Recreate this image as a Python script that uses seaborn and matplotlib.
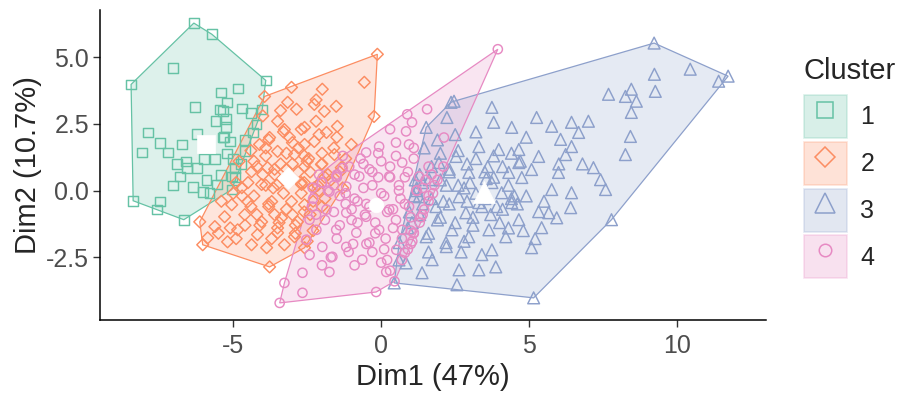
import numpy as np
import matplotlib
matplotlib.use("Agg")
import matplotlib.pyplot as plt
import seaborn as sns
from matplotlib.patches import Patch, Polygon
from matplotlib.lines import Line2D
from matplotlib.legend_handler import HandlerTuple

# cluster 1 (green squares)
x1 = [-6.33, -5.72, -3.90, -4.02, -8.45, -8.38, -7.58, -6.67, -5.80, -5.05,
      -7.04, -5.42, -4.85, -6.30, -4.71, -5.45, -5.35, -5.25, -5.25, -4.21,
      -4.34, -7.88, -7.47, -6.73, -6.23, -8.08, -7.20, -5.35, -5.12, -5.22,
      -5.62, -6.60, -6.57, -6.23, -6.80, -4.95, -5.05, -7.04, -6.36, -6.03,
      -7.47, -5.56, -5.30, -4.60, -4.60, -4.75, -4.95, -5.40, -6.00, -5.60,
      -5.20, -4.40, -5.90, -6.90, -5.00]
y1 = [6.28, 5.86, 4.13, 3.04, 3.98, -0.38, -0.71, -1.09, -0.08, 0.04,
      4.59, 3.68, 3.83, 3.12, 3.08, 3.04, 2.97, 2.67, 2.37, 2.48,
      2.18, 2.18, 1.80, 1.73, 2.11, 1.43, 1.43, 1.99, 1.84, 1.39,
      1.17, 1.09, 0.86, 0.86, 0.53, 0.86, 0.53, 0.19, 0.15, -0.04,
      -0.41, 0.23, 2.00, 1.90, 1.50, 1.00, 0.50, 0.60, 1.20, 2.60,
      3.30, 2.90, 0.40, 1.00, 1.20]

# cluster 2 (orange diamonds)
x2 = [-0.13, -0.24, -2.59, -3.77, -6.03, -6.13, -3.94, -3.03,
      -0.57, -1.99, -3.16, -2.86, -2.26, -1.92, -1.52, -1.48, -1.01, -1.85,
      -2.59, -3.27, -3.77, -4.11, -2.59, -2.26, -3.50, -2.93, -1.58, -1.35,
      -2.02, -2.59, -3.84, -4.38, -4.71, -4.04, -3.50, -2.69, -2.26, -5.05,
      -4.51, -3.70, -3.03, -2.59, -5.29, -4.61, -4.04, -3.37, -2.83, -5.62,
      -4.85, -4.18, -3.50, -2.93, -5.86, -5.19, -4.38, -3.87, -3.27,
      -3.60, -2.80, -3.30, -2.50, -3.90, -3.10, -2.20, -2.00, -1.70, -4.30,
      -3.60, -2.40, -4.60, -1.90, -2.60, -3.40, -4.00, -2.80, -3.50, -2.90,
      -1.50, -1.20, -4.90, -5.40, -4.30, -3.20, -2.30, -3.80, -4.20, -2.70,
      -1.80, -3.00, -4.70, -5.10, -3.45, -2.15, -3.65, -2.45, -1.30,
      -3.80, -3.30, -2.70, -2.10, -4.40, -3.90, -3.20, -2.60, -2.00, -4.80,
      -4.20, -3.60, -3.00, -2.40, -1.90, -4.50, -3.90, -3.30, -2.70, -2.10,
      -5.00, -4.40, -3.80, -3.20, -2.60, -2.00, -4.10, -3.50, -2.90, -2.30,
      -5.50, -4.90, -1.60, -1.40, -3.00, -3.70, -2.50, -4.00, -3.40, -2.20]
y2 = [5.11, 2.78, -2.14, -2.86, -2.03, -1.17, 3.53, 3.87,
      4.06, 3.80, 3.31, 3.05, 3.23, 2.97, 3.16, 2.41, 1.73, 2.18,
      2.37, 2.29, 1.99, 1.73, 1.73, 1.84, 1.47, 1.35, 1.35, 0.86,
      0.98, 0.90, 0.86, 0.71, 0.11, 0.23, 0.23, 0.23, 0.11, -0.53,
      -0.41, -0.41, -0.41, -0.53, -0.98, -0.90, -1.17, -1.02, -1.17, -1.35,
      -1.47, -1.65, -1.58, -1.73, -1.77, -1.92, -2.03, -2.14, -2.03,
      0.60, 0.70, -0.10, 1.10, 1.30, 2.00, 2.60, 1.40, 0.40, -0.20,
      -0.90, -0.90, -1.30, -0.30, 0.30, 1.00, 0.60, 1.60, 2.60, -1.30,
      2.00, 1.20, 0.30, -0.40, 1.10, 0.80, -0.40, -0.60, -0.90, -0.10,
      0.60, 1.80, -0.20, -1.40, -1.20, 0.20, 0.10, 1.20, 0.10,
      1.90, 2.20, 2.30, 2.10, 1.50, 1.60, 1.40, 1.30, 1.00, 1.10,
      0.90, 0.80, 1.00, 0.70, 0.50, 0.30, 0.20, 0.40, 0.30, 0.00,
      -0.10, -0.60, -0.50, -0.70, -0.80, -0.60, -1.30, -1.40, -1.60, -1.50,
      -1.60, -1.80, 1.60, 0.70, -0.90, -1.80, -1.90, 2.80, 3.00, 3.40]

# cluster 3 (blue triangles)
x3 = [9.22, 11.72, 11.40, 5.15, 7.78, 2.36, 0.44,
      10.44, 9.23, 9.26, 7.68, 8.25, 8.45, 8.62, 8.45, 8.42, 8.25, 7.17,
      7.41, 7.58, 5.25, 5.76, 6.43, 6.67, 6.06, 6.43, 6.23, 4.41, 3.74,
      3.80, 2.46, 2.22, 1.52, 5.32, 5.99, 5.76, 6.43, 6.40, 5.32, 5.66,
      5.93, 5.42, 5.08, 4.65, 4.41, 4.07, 4.75, 4.65, 3.97, 3.30, 3.64,
      4.21, 3.74, 3.87, 3.30, 2.63, 2.56, 1.72, 1.38, 2.96, 2.39, 2.86,
      2.63, 3.30, 3.74, 2.96, 2.53, 1.95, 1.62, 1.28, 1.85, 1.04, 1.52,
      2.19, 0.61, 0.84, 4.65, 5.08, 4.31,
      3.00, 3.90, 2.20, 3.10, 4.30, 2.00, 1.30, 1.45, 1.20, 0.95, 3.60,
      4.00, 2.70, 1.90, 3.20, 4.90, 1.60, 0.60, 2.50, 4.90, 3.40, 2.10,
      1.40, 0.90, 2.80, 3.55, 4.50, 1.20, 2.30, 1.15,
      2.00, 2.60, 3.20, 3.80, 4.40, 1.70, 2.30, 2.90, 3.50, 4.10,
      4.70, 1.40, 2.00, 2.60, 3.20, 3.80, 4.40, 1.10, 1.70, 2.30,
      2.90, 3.50, 4.10, 4.60, 1.30, 1.90, 2.50, 3.10, 3.70, 4.30,
      1.60, 2.20, 2.80, 3.40, 6.80, 7.00, 5.50, 6.00, 5.20, 4.80]
y3 = [5.53, 4.29, 4.10, -4.02, -1.09, 3.31, -3.46,
      4.55, 4.36, 3.72, 3.61, 3.53, 3.80, 3.35, 2.93, 2.03, 1.35, 0.86,
      0.41, 0.04, 2.74, 2.41, 2.56, 2.18, 1.92, 1.65, 1.35, 2.37, 3.12,
      2.56, 3.35, 2.74, 2.37, 1.28, 0.68, 0.04, -0.08, -0.64, -0.79, -0.83,
      -1.02, -1.39, -2.14, -1.09, -0.45, -0.08, 0.49, 1.05, 1.54, 1.65, -1.47,
      -1.73, -2.22, -2.86, -2.97, -2.97, -3.53, -2.59, -3.08, -1.73, -1.47, -0.83,
      -0.23, -0.45, 0.30, 0.68, 1.28, 1.05, 0.41, -0.23, -0.60, -1.20, -1.73,
      -1.95, -1.95, -2.71, 1.54, 0.79, 0.68,
      0.30, -0.60, 0.20, -1.00, 0.20, -1.00, 0.60, 1.60, 0.10, -0.80, 0.90,
      -1.20, -2.30, 1.90, 2.20, -0.20, -2.30, -2.60, 2.10, 2.00, -0.60, -0.40,
      -0.50, -1.40, 0.10, 0.45, -0.20, 0.00, 0.70, 0.40,
      1.40, 1.50, 1.20, 1.30, 1.40, 0.90, 0.80, 1.00, 0.70, 0.90,
      1.10, 0.30, 0.40, 0.20, -0.10, 0.50, -0.30, -0.20, -0.30, -0.50,
      -0.40, -0.30, -0.70, -0.50, -0.90, -1.10, -1.20, -1.30, -0.90, -1.40,
      -1.60, -2.10, -1.90, -2.40, 1.00, 2.60, -0.40, 1.00, -1.80, -1.50]

# cluster 4 (pink circles)
x4 = [3.94, -2.32, -3.43, -3.27, -2.66, -2.66, -1.75, -0.17, 0.17, -2.42,
      -1.65, 1.55, 0.88, 0.84, 2.12, 1.04, 0.30, 0.00,
      0.94, -0.07, -0.51, -1.08, -1.52, -1.75, -1.18, -0.74, 0.27, 0.71,
      1.28, -1.85, -1.18, -0.51, 0.27, 0.94, 1.45, -2.19, -1.52, -0.84,
      -0.07, 0.71, 1.10, -1.99, -1.18, -0.40, 0.51, 0.80, -0.64, -2.53,
      -2.42, -2.32,
      -0.30, 0.10, -0.90, 0.60, -0.50, 0.30, -1.40, 1.00, -1.00, 0.00,
      -0.20, 0.50, -1.60, 1.60, 1.80, 1.30, 1.60, 1.10, -0.60, 0.50,
      -1.30, 2.10, 1.00, 0.70, -0.90, -2.00, -0.30, 0.20, -1.50, 1.40,
      0.80, -0.10, -2.00, -2.30, 1.10, -0.80, 0.40, -1.20, 1.20, -1.90,
      -0.40, 0.65, 1.75, -1.70, -0.95, 0.15, 1.05, -2.10, -0.55, 1.90,
      -1.50, -1.30, -0.70, -0.10, 0.50, 1.10, 1.70, -2.00, -1.50, -0.90,
      -0.30, 0.30, 0.90, 1.50, -1.80, -1.20, -0.60, 0.00, 0.60, 1.20,
      1.60, -2.20, -1.60, -1.00, -0.40, 0.20, 0.80, 1.40, -1.40, -0.80,
      -0.20, 0.40, 1.00, -0.50, 0.10, 0.70, -1.10, 0.90, 1.35, 0.30, 0.45]
y4 = [5.30, 0.11, -4.21, -3.46, -3.83, -3.08, -3.05, -3.80, -3.05, -2.41,
      -2.48, 3.05, 2.86, 2.22, 1.99, 2.56, -3.00, -2.70,
      1.73, 1.65, 1.43, 0.90, 0.53, -0.04, 0.15, 0.53, 0.53, 1.05,
      0.53, -0.71, -0.83, -0.98, -0.71, -0.60, -0.71, -1.47, -1.47, -1.58,
      -1.47, -1.47, -1.58, -2.11, -2.11, -1.95, -2.22, -2.33, -2.59, -1.84,
      -1.09, -0.60,
      0.20, -0.20, -0.30, 0.00, -0.50, 0.90, -0.20, -1.00, -1.10, 1.10,
      -1.20, -1.10, 0.20, 0.90, 0.20, -1.20, -0.40, 1.60, 1.00, 1.80,
      1.30, 0.90, -2.00, -2.60, -2.80, -2.80, -2.30, -2.60, -1.80, 0.10,
      0.50, 0.50, 0.30, -0.30, -1.60, -0.40, -0.70, -0.50, 0.00, -1.10,
      0.80, -0.30, -0.10, -2.50, -2.00, -1.80, -1.90, 0.60, -0.90, 0.40,
      0.60, 0.85, 1.20, 1.40, 1.30, 1.20, 0.60, 0.30, 0.50, 0.60,
      0.70, 0.50, 0.70, 0.40, 0.00, -0.10, 0.10, -0.10, 0.20, 0.00,
      -0.20, -0.90, -0.80, -0.70, -0.60, -0.80, -0.50, -0.90, -1.30, -1.20,
      -1.60, -1.40, -1.50, -2.00, -2.20, -1.80, -2.30, -2.20, -1.00, 2.30, -3.40]

# cluster centres
cx = [-5.93, -3.16, 3.47, -0.17]
cy = [1.73, 0.49, -0.04, -0.53]

labels = ["1", "2", "3", "4"]
colors = ["#66C2A5", "#FC8D62", "#8DA0CB", "#E78AC3"]
markers = ["s", "D", "^", "o"]
sizes = [50, 36, 72, 44]
csizes = [160, 120, 250, 110]
leg_ms = [12, 10, 15, 9]


def hull(px, py):
    pts = sorted(set(zip(px, py)))

    def cross(o, a, b):
        return (a[0] - o[0]) * (b[1] - o[1]) - (a[1] - o[1]) * (b[0] - o[0])

    lower, upper = [], []
    for p in pts:
        while len(lower) >= 2 and cross(lower[-2], lower[-1], p) <= 0:
            lower.pop()
        lower.append(p)
    for p in reversed(pts):
        while len(upper) >= 2 and cross(upper[-2], upper[-1], p) <= 0:
            upper.pop()
        upper.append(p)
    return np.array(lower[:-1] + upper[:-1])


sns.set_style("ticks")
plt.rcParams["font.family"] = ["Liberation Sans", "DejaVu Sans"]

fig = plt.figure(figsize=(9, 3.96), dpi=100)
ax = fig.add_axes([100 / 900, 76 / 396, 666 / 900, 310 / 396])

xs = [x1, x2, x3, x4]
ys = [y1, y2, y3, y4]

for i in range(4):
    h = hull(xs[i], ys[i])
    ax.add_patch(Polygon(h, closed=True, facecolor=colors[i], alpha=0.22,
                         edgecolor="none", zorder=1))
    ax.add_patch(Polygon(h, closed=True, facecolor="none",
                         edgecolor=colors[i], lw=0.9, zorder=1.5))

for i in range(4):
    sns.scatterplot(x=xs[i], y=ys[i], marker=markers[i], s=sizes[i],
                    color=colors[i], facecolors="none", edgecolor=colors[i],
                    linewidth=1.05, ax=ax, legend=False, zorder=2)

for i in range(4):
    sns.scatterplot(x=[cx[i]], y=[cy[i]], marker=markers[i], s=csizes[i],
                    color="white", edgecolor="white", linewidth=0.5,
                    ax=ax, legend=False, zorder=3)

ax.set_xlim(-9.5, 13.0)
ax.set_ylim(-4.85, 6.77)
ax.set_xticks([-5, 0, 5, 10])
ax.set_xticklabels(["-5", "0", "5", "10"])
ax.set_yticks([-2.5, 0, 2.5, 5])
ax.set_yticklabels(["-2.5", "0.0", "2.5", "5.0"])
ax.tick_params(colors="#4D4D4D", labelsize=18, length=5, width=1)
ax.tick_params(axis="x", pad=5)
ax.tick_params(axis="y", pad=3)
ax.tick_params(axis="both", color="#333333")
for sp in ["top", "right"]:
    ax.spines[sp].set_visible(False)
for sp in ["left", "bottom"]:
    ax.spines[sp].set_color("black")
    ax.spines[sp].set_linewidth(1.1)
ax.set_xlabel("Dim1 (47%)", fontsize=21, labelpad=4)
ax.set_ylabel("Dim2 (10.7%)", fontsize=21, labelpad=3)

handles = []
for i in range(4):
    box = Patch(facecolor=colors[i], alpha=0.25, edgecolor=colors[i], lw=1.2)
    mk = Line2D([], [], marker=markers[i], ls="none", markersize=leg_ms[i],
                markerfacecolor="none", markeredgecolor=colors[i],
                markeredgewidth=1.1)
    handles.append((box, mk))

leg = fig.legend(handles, labels, title="Cluster", loc="upper left",
                 bbox_to_anchor=(0.893, 0.855), frameon=False,
                 handler_map={tuple: HandlerTuple(ndivide=1, pad=0)},
                 fontsize=18, title_fontsize=21, handlelength=1.72,
                 handleheight=2.27, labelspacing=0.15, handletextpad=0.55,
                 borderaxespad=0, borderpad=0)
leg._legend_box.align = "left"
leg._legend_box.sep = 7

fig.savefig("out.png", dpi=100)
